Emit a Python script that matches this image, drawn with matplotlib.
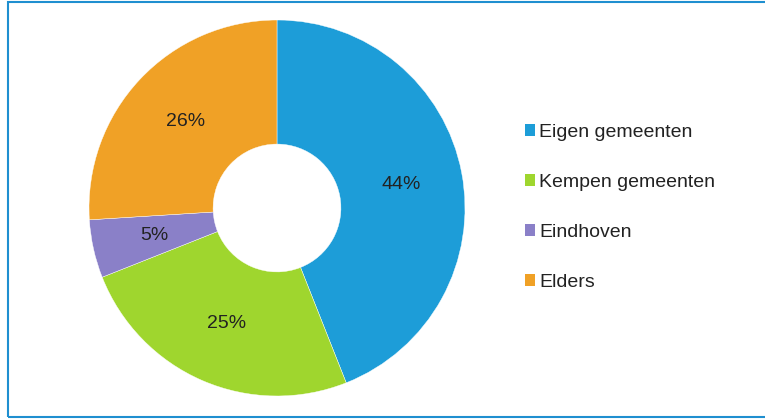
import matplotlib
matplotlib.use("Agg")
import matplotlib.pyplot as plt
from matplotlib.patches import Rectangle, Patch

categories = ["Eigen gemeenten", "Kempen gemeenten", "Eindhoven", "Elders"]
values = [44, 25, 5, 26]
colors = ["#1d9dd8", "#9fd62e", "#8a80c8", "#f0a126"]

plt.rcParams['font.family'] = ['Liberation Sans', 'DejaVu Sans']

fig = plt.figure(figsize=(7.65, 4.19), dpi=100)
fig.patch.set_facecolor("white")

# frame
fig.add_artist(Rectangle((8/765, 2/419), (775-8)/765, (417-2)/419,
                         transform=fig.transFigure, fill=False,
                         edgecolor="#1f8fd0", linewidth=1.5))

ax = fig.add_axes([(277-188)/765, (419-208-188)/419, 376/765, 376/419])
wedges, texts, autotexts = ax.pie(values, colors=colors, startangle=90, counterclock=False,
                                  radius=1.0, autopct=lambda p: f"{p:.0f}%", pctdistance=0.67,
                                  wedgeprops=dict(width=0.66, edgecolor="white", linewidth=0.3),
                                  textprops=dict(fontsize=14, color="#222222"))
ax.set_xlim(-1, 1)
ax.set_ylim(-1, 1)
ax.set_aspect("equal")
ax.axis("off")

handles = [Patch(facecolor=c, edgecolor="none") for c in colors]
leg = fig.legend(handles, categories, loc="upper left", bbox_to_anchor=(517/765, 1-116/419),
                 frameon=False, fontsize=14, handlelength=0.55, handleheight=0.55,
                 handletextpad=0.2, labelspacing=1.7, borderaxespad=0)
for t in leg.get_texts():
    t.set_color("#222222")

fig.savefig("out.png", dpi=100, facecolor="white")
